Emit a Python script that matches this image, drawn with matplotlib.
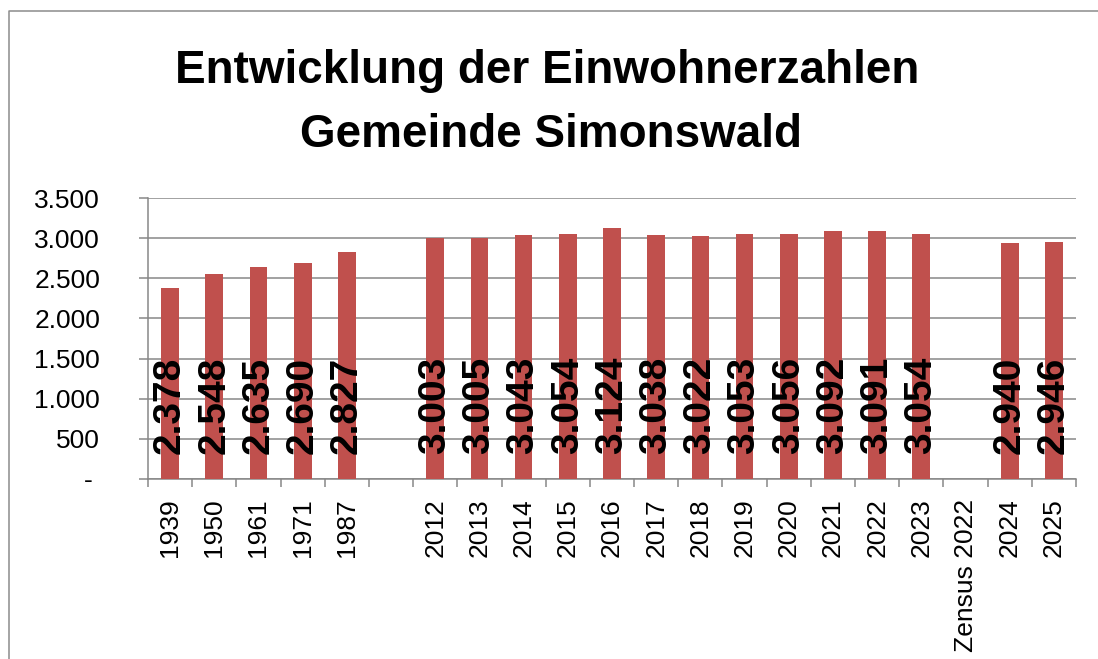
import math
import matplotlib
matplotlib.use("Agg")
import matplotlib.pyplot as plt
from matplotlib.lines import Line2D
from matplotlib.ticker import FixedLocator

plt.rcParams['font.family'] = ['Liberation Sans', 'DejaVu Sans']

categories = ['1939', '1950', '1961', '1971', '1987', '',
              '2012', '2013', '2014', '2015', '2016', '2017', '2018',
              '2019', '2020', '2021', '2022', '2023', 'Zensus 2022',
              '2024', '2025']
values = [2378, 2548, 2635, 2690, 2827, math.nan,
          3003, 3005, 3043, 3054, 3124, 3038, 3022,
          3053, 3056, 3092, 3091, 3054, math.nan,
          2940, 2946]
yticks = [0, 500, 1000, 1500, 2000, 2500, 3000, 3500]
ytick_labels = ['- ', '500', '1.000', '1.500', '2.000', '2.500', '3.000', '3.500']
title_lines = ['Entwicklung der Einwohnerzahlen', 'Gemeinde Simonswald']

W, H = 1098, 659
fig = plt.figure(figsize=(W / 100, H / 100), dpi=100)
fig.patch.set_facecolor('white')

left, right, top, bottom = 148, 1076, 198, 479
ax = fig.add_axes([left / W, 1 - bottom / H, (right - left) / W, (bottom - top) / H])

bar_color = '#C0504D'
grid_color = '#878787'

xs = [i for i, v in enumerate(values) if not math.isnan(v)]
hs = [v for v in values if not math.isnan(v)]
ax.bar(xs, hs, width=0.40, color=bar_color, zorder=3)

for x, v in zip(xs, hs):
    ax.annotate(f"{int(v):,}".replace(',', '.'), xy=(x, 0), xytext=(0, 18),
                textcoords='offset points', rotation=90, ha='center', va='bottom',
                fontsize=28, fontweight='bold', color='black', zorder=4)

ax.set_xlim(-0.5, len(categories) - 0.5)
ax.set_ylim(0, 3500)
ax.set_yticks(yticks)
ax.set_yticklabels(ytick_labels, fontsize=19)
ax.yaxis.grid(True, color=grid_color, linewidth=1.1, zorder=0)
ax.set_axisbelow(True)
ax.tick_params(axis='y', length=6.5, width=1.1, color=grid_color, pad=28)

ax.set_xticks(range(len(categories)))
ax.set_xticklabels(categories, rotation=90, fontsize=19, va='top', ha='center')
ax.tick_params(axis='x', which='major', length=0, pad=14)
ax.xaxis.set_minor_locator(FixedLocator([i - 0.5 for i in range(len(categories) + 1)]))
ax.tick_params(axis='x', which='minor', length=6, width=1.1, color=grid_color)

for s in ['top', 'right']:
    ax.spines[s].set_visible(False)
for s in ['left', 'bottom']:
    ax.spines[s].set_color(grid_color)
    ax.spines[s].set_linewidth(1.1)

# titles
fig.text(547 / W, 1 - 83 / H, title_lines[0], ha='center', va='baseline',
         fontsize=33, fontweight='bold')
fig.text(551 / W, 1 - 147 / H, title_lines[1], ha='center', va='baseline',
         fontsize=33, fontweight='bold')

# chart frame (partial border)
fx, fy = 8.5 / W, 1 - 10.5 / H
fig.add_artist(Line2D([fx, fx, 1.0], [0.0, fy, fy], transform=fig.transFigure,
                      color='#8c8c8c', linewidth=1.1))

fig.savefig('out.png', dpi=100, facecolor='white')
